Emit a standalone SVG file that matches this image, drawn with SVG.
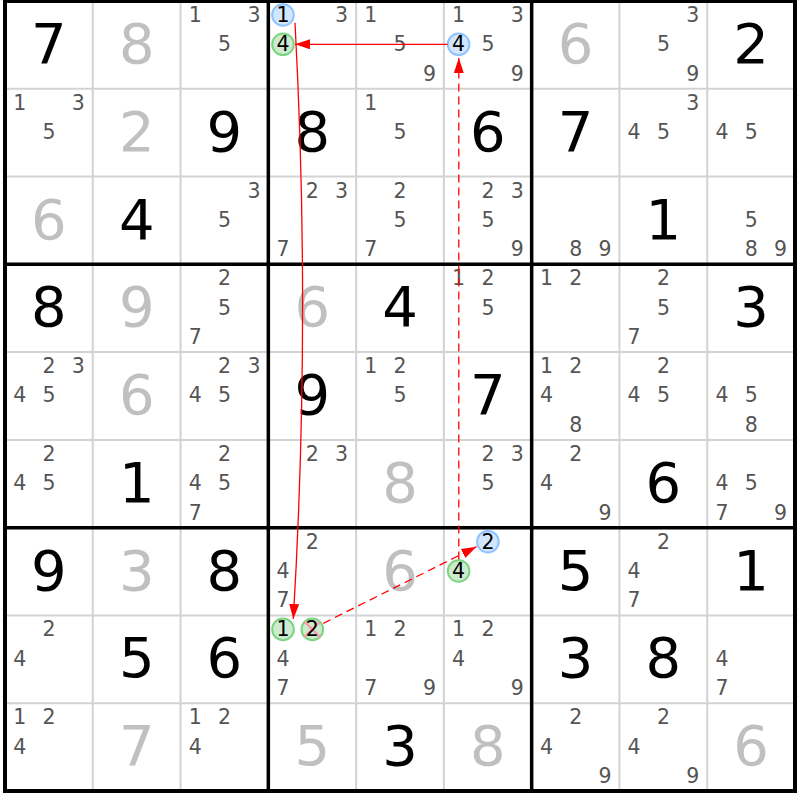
<svg xmlns="http://www.w3.org/2000/svg" width="800" height="800" viewBox="0 0 800 800">
<style>
text{font-family:"DejaVu Sans","Verdana",sans-serif;text-anchor:middle}
.g{font-size:56px;fill:#000}
.s{font-size:56px;fill:#c0c0c0}
.c{font-size:20.5px;fill:#555}
.k{font-size:20.5px;fill:#000}
.cb{fill:#d2e7fe;stroke:#8fc3fb;stroke-width:2}
.cg{fill:#cdeccf;stroke:#7dd483;stroke-width:2}
.thin{stroke:#d3d3d3;stroke-width:2}
.thick{stroke:#000;stroke-width:3.5}
.ar{stroke:#ff0000;stroke-width:1.3;fill:none}
.da{stroke-dasharray:8 5}
</style>
<defs>
<marker id="ah" markerUnits="userSpaceOnUse" markerWidth="16" markerHeight="11" refX="15" refY="5" orient="auto"><path d="M0,0 L15,5 L0,10 z" fill="#ff0000"/></marker>
</defs>
<rect x="0" y="0" width="800" height="800" fill="#fff"/>
<g id="grid">
<path class="thin" d="M92.78 1V791M180.56 1V791M356.11 1V791M443.89 1V791M619.44 1V791M707.22 1V791M5 88.78H795M5 176.56H795M5 352.11H795M5 439.89H795M5 615.44H795M5 703.22H795"/>
<path class="thick" d="M268.33 1V791M531.67 1V791M5 264.33H795M5 527.67H795"/>
<rect x="5" y="1" width="790" height="790" fill="none" stroke="#000" stroke-width="4"/>
</g>
<g id="r1">
<g id="r1c1"><text class="g" x="48.9" y="63">7</text></g>
<g id="r1c2"><text class="s" x="136.7" y="63">8</text></g>
<g id="r1c3"><text class="c" x="195.3" y="22">1</text><text class="c" x="253.9" y="22">3</text><text class="c" x="224.6" y="51.3">5</text></g>
<g id="r1c4"><circle class="cb" cx="283" cy="15" r="10.8"/><text class="k" x="283" y="22">1</text><text class="c" x="341.6" y="22">3</text><circle class="cg" cx="283" cy="44.3" r="10.8"/><text class="k" x="283" y="51.3">4</text></g>
<g id="r1c5"><text class="c" x="370.8" y="22">1</text><text class="c" x="400.1" y="51.3">5</text><text class="c" x="429.4" y="80.6">9</text></g>
<g id="r1c6"><text class="c" x="458.6" y="22">1</text><text class="c" x="517.2" y="22">3</text><circle class="cb" cx="458.6" cy="44.3" r="10.8"/><text class="k" x="458.6" y="51.3">4</text><text class="c" x="487.9" y="51.3">5</text><text class="c" x="517.2" y="80.6">9</text></g>
<g id="r1c7"><text class="s" x="575.6" y="63">6</text></g>
<g id="r1c8"><text class="c" x="692.7" y="22">3</text><text class="c" x="663.4" y="51.3">5</text><text class="c" x="692.7" y="80.6">9</text></g>
<g id="r1c9"><text class="g" x="751.1" y="63">2</text></g>
</g>
<g id="r2">
<g id="r2c1"><text class="c" x="19.7" y="109.8">1</text><text class="c" x="78.3" y="109.8">3</text><text class="c" x="49" y="139.1">5</text></g>
<g id="r2c2"><text class="s" x="136.7" y="150.8">2</text></g>
<g id="r2c3"><text class="g" x="224.4" y="150.8">9</text></g>
<g id="r2c4"><text class="g" x="312.2" y="150.8">8</text></g>
<g id="r2c5"><text class="c" x="370.8" y="109.8">1</text><text class="c" x="400.1" y="139.1">5</text></g>
<g id="r2c6"><text class="g" x="487.8" y="150.8">6</text></g>
<g id="r2c7"><text class="g" x="575.6" y="150.8">7</text></g>
<g id="r2c8"><text class="c" x="692.7" y="109.8">3</text><text class="c" x="634.1" y="139.1">4</text><text class="c" x="663.4" y="139.1">5</text></g>
<g id="r2c9"><text class="c" x="721.9" y="139.1">4</text><text class="c" x="751.2" y="139.1">5</text></g>
</g>
<g id="r3">
<g id="r3c1"><text class="s" x="48.9" y="238.6">6</text></g>
<g id="r3c2"><text class="g" x="136.7" y="238.6">4</text></g>
<g id="r3c3"><text class="c" x="253.9" y="197.6">3</text><text class="c" x="224.6" y="226.9">5</text></g>
<g id="r3c4"><text class="c" x="312.3" y="197.6">2</text><text class="c" x="341.6" y="197.6">3</text><text class="c" x="283" y="256.2">7</text></g>
<g id="r3c5"><text class="c" x="400.1" y="197.6">2</text><text class="c" x="400.1" y="226.9">5</text><text class="c" x="370.8" y="256.2">7</text></g>
<g id="r3c6"><text class="c" x="487.9" y="197.6">2</text><text class="c" x="517.2" y="197.6">3</text><text class="c" x="487.9" y="226.9">5</text><text class="c" x="517.2" y="256.2">9</text></g>
<g id="r3c7"><text class="c" x="575.7" y="256.2">8</text><text class="c" x="605" y="256.2">9</text></g>
<g id="r3c8"><text class="g" x="663.3" y="238.6">1</text></g>
<g id="r3c9"><text class="c" x="751.2" y="226.9">5</text><text class="c" x="751.2" y="256.2">8</text><text class="c" x="780.5" y="256.2">9</text></g>
</g>
<g id="r4">
<g id="r4c1"><text class="g" x="48.9" y="326.3">8</text></g>
<g id="r4c2"><text class="s" x="136.7" y="326.3">9</text></g>
<g id="r4c3"><text class="c" x="224.6" y="285.3">2</text><text class="c" x="224.6" y="314.6">5</text><text class="c" x="195.3" y="343.9">7</text></g>
<g id="r4c4"><text class="s" x="312.2" y="326.3">6</text></g>
<g id="r4c5"><text class="g" x="400" y="326.3">4</text></g>
<g id="r4c6"><text class="c" x="458.6" y="285.3">1</text><text class="c" x="487.9" y="285.3">2</text><text class="c" x="487.9" y="314.6">5</text></g>
<g id="r4c7"><text class="c" x="546.4" y="285.3">1</text><text class="c" x="575.7" y="285.3">2</text></g>
<g id="r4c8"><text class="c" x="663.4" y="285.3">2</text><text class="c" x="663.4" y="314.6">5</text><text class="c" x="634.1" y="343.9">7</text></g>
<g id="r4c9"><text class="g" x="751.1" y="326.3">3</text></g>
</g>
<g id="r5">
<g id="r5c1"><text class="c" x="49" y="373.1">2</text><text class="c" x="78.3" y="373.1">3</text><text class="c" x="19.7" y="402.4">4</text><text class="c" x="49" y="402.4">5</text></g>
<g id="r5c2"><text class="s" x="136.7" y="414.1">6</text></g>
<g id="r5c3"><text class="c" x="224.6" y="373.1">2</text><text class="c" x="253.9" y="373.1">3</text><text class="c" x="195.3" y="402.4">4</text><text class="c" x="224.6" y="402.4">5</text></g>
<g id="r5c4"><text class="g" x="312.2" y="414.1">9</text></g>
<g id="r5c5"><text class="c" x="370.8" y="373.1">1</text><text class="c" x="400.1" y="373.1">2</text><text class="c" x="400.1" y="402.4">5</text></g>
<g id="r5c6"><text class="g" x="487.8" y="414.1">7</text></g>
<g id="r5c7"><text class="c" x="546.4" y="373.1">1</text><text class="c" x="575.7" y="373.1">2</text><text class="c" x="546.4" y="402.4">4</text><text class="c" x="575.7" y="431.7">8</text></g>
<g id="r5c8"><text class="c" x="663.4" y="373.1">2</text><text class="c" x="634.1" y="402.4">4</text><text class="c" x="663.4" y="402.4">5</text></g>
<g id="r5c9"><text class="c" x="721.9" y="402.4">4</text><text class="c" x="751.2" y="402.4">5</text><text class="c" x="751.2" y="431.7">8</text></g>
</g>
<g id="r6">
<g id="r6c1"><text class="c" x="49" y="460.9">2</text><text class="c" x="19.7" y="490.2">4</text><text class="c" x="49" y="490.2">5</text></g>
<g id="r6c2"><text class="g" x="136.7" y="501.9">1</text></g>
<g id="r6c3"><text class="c" x="224.6" y="460.9">2</text><text class="c" x="195.3" y="490.2">4</text><text class="c" x="224.6" y="490.2">5</text><text class="c" x="195.3" y="519.5">7</text></g>
<g id="r6c4"><text class="c" x="312.3" y="460.9">2</text><text class="c" x="341.6" y="460.9">3</text></g>
<g id="r6c5"><text class="s" x="400" y="501.9">8</text></g>
<g id="r6c6"><text class="c" x="487.9" y="460.9">2</text><text class="c" x="517.2" y="460.9">3</text><text class="c" x="487.9" y="490.2">5</text></g>
<g id="r6c7"><text class="c" x="575.7" y="460.9">2</text><text class="c" x="546.4" y="490.2">4</text><text class="c" x="605" y="519.5">9</text></g>
<g id="r6c8"><text class="g" x="663.3" y="501.9">6</text></g>
<g id="r6c9"><text class="c" x="721.9" y="490.2">4</text><text class="c" x="751.2" y="490.2">5</text><text class="c" x="721.9" y="519.5">7</text><text class="c" x="780.5" y="519.5">9</text></g>
</g>
<g id="r7">
<g id="r7c1"><text class="g" x="48.9" y="589.7">9</text></g>
<g id="r7c2"><text class="s" x="136.7" y="589.7">3</text></g>
<g id="r7c3"><text class="g" x="224.4" y="589.7">8</text></g>
<g id="r7c4"><text class="c" x="312.3" y="548.7">2</text><text class="c" x="283" y="578">4</text><text class="c" x="283" y="607.3">7</text></g>
<g id="r7c5"><text class="s" x="400" y="589.7">6</text></g>
<g id="r7c6"><circle class="cb" cx="487.9" cy="541.7" r="10.8"/><text class="k" x="487.9" y="548.7">2</text><circle class="cg" cx="458.6" cy="571" r="10.8"/><text class="k" x="458.6" y="578">4</text></g>
<g id="r7c7"><text class="g" x="575.6" y="589.7">5</text></g>
<g id="r7c8"><text class="c" x="663.4" y="548.7">2</text><text class="c" x="634.1" y="578">4</text><text class="c" x="634.1" y="607.3">7</text></g>
<g id="r7c9"><text class="g" x="751.1" y="589.7">1</text></g>
</g>
<g id="r8">
<g id="r8c1"><text class="c" x="49" y="636.4">2</text><text class="c" x="19.7" y="665.7">4</text></g>
<g id="r8c2"><text class="g" x="136.7" y="677.4">5</text></g>
<g id="r8c3"><text class="g" x="224.4" y="677.4">6</text></g>
<g id="r8c4"><circle class="cg" cx="283" cy="629.4" r="10.8"/><text class="k" x="283" y="636.4">1</text><circle class="cg" cx="312.3" cy="629.4" r="10.8"/><path d="M304.5 621.6L320.1 637.2M304.5 637.2L320.1 621.6" stroke="#f4a0a8" stroke-width="2.5"/><text class="k" x="312.3" y="636.4">2</text><text class="c" x="283" y="665.7">4</text><text class="c" x="283" y="695">7</text></g>
<g id="r8c5"><text class="c" x="370.8" y="636.4">1</text><text class="c" x="400.1" y="636.4">2</text><text class="c" x="370.8" y="695">7</text><text class="c" x="429.4" y="695">9</text></g>
<g id="r8c6"><text class="c" x="458.6" y="636.4">1</text><text class="c" x="487.9" y="636.4">2</text><text class="c" x="458.6" y="665.7">4</text><text class="c" x="517.2" y="695">9</text></g>
<g id="r8c7"><text class="g" x="575.6" y="677.4">3</text></g>
<g id="r8c8"><text class="g" x="663.3" y="677.4">8</text></g>
<g id="r8c9"><text class="c" x="721.9" y="665.7">4</text><text class="c" x="721.9" y="695">7</text></g>
</g>
<g id="r9">
<g id="r9c1"><text class="c" x="19.7" y="724.2">1</text><text class="c" x="49" y="724.2">2</text><text class="c" x="19.7" y="753.5">4</text></g>
<g id="r9c2"><text class="s" x="136.7" y="765.2">7</text></g>
<g id="r9c3"><text class="c" x="195.3" y="724.2">1</text><text class="c" x="224.6" y="724.2">2</text><text class="c" x="195.3" y="753.5">4</text></g>
<g id="r9c4"><text class="s" x="312.2" y="765.2">5</text></g>
<g id="r9c5"><text class="g" x="400" y="765.2">3</text></g>
<g id="r9c6"><text class="s" x="487.8" y="765.2">8</text></g>
<g id="r9c7"><text class="c" x="575.7" y="724.2">2</text><text class="c" x="546.4" y="753.5">4</text><text class="c" x="605" y="782.8">9</text></g>
<g id="r9c8"><text class="c" x="663.4" y="724.2">2</text><text class="c" x="634.1" y="753.5">4</text><text class="c" x="692.7" y="782.8">9</text></g>
<g id="r9c9"><text class="s" x="751.1" y="765.2">6</text></g>
</g>
<g id="connectors">
<path class="ar" d="M447.6 44.3H295" marker-end="url(#ah)"/>
<path class="ar" d="M295 22.7Q311 320 293.3 619" marker-end="url(#ah)"/>
<path class="ar da" d="M323.3 623.3L476.5 546.7" marker-end="url(#ah)"/>
<path class="ar da" d="M458.8 559.5V58" marker-end="url(#ah)"/>
</g>
</svg>
